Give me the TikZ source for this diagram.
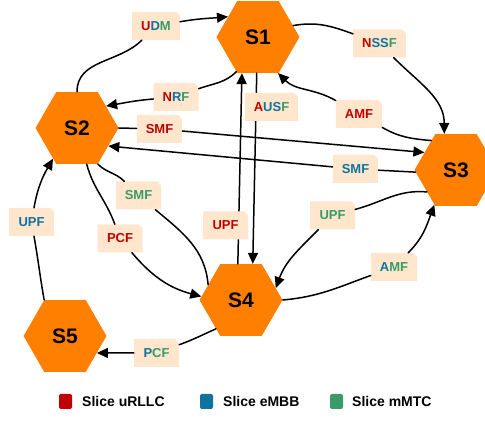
\documentclass[tikz,border=0pt]{standalone}
\usepackage{fontspec}
\setmainfont{Liberation Sans}
\usetikzlibrary{shapes.geometric,shapes.misc,arrows.meta}
\definecolor{hexorange}{HTML}{FF7F00}
\definecolor{peach}{HTML}{FFE6CC}
\definecolor{urllc}{HTML}{C00000}
\definecolor{embb}{HTML}{10739E}
\definecolor{mmtc}{HTML}{3A9A68}
\newcommand{\uRL}[1]{\textcolor{urllc}{#1}}
\newcommand{\eMB}[1]{\textcolor{embb}{#1}}
\newcommand{\mMT}[1]{\textcolor{mmtc}{#1}}
\tikzset{
  slice/.style={regular polygon, regular polygon sides=6, minimum size=83pt,
    fill=hexorange, inner sep=0pt, font=\fontsize{21}{24}\selectfont\bfseries},
  nf/.style={chamfered rectangle, chamfered rectangle corners=north east,
    chamfered rectangle sep=2pt, fill=peach, minimum width=45pt,
    minimum height=28pt, inner xsep=7pt, inner ysep=0pt,
    font=\fontsize{13}{15}\selectfont\bfseries},
  link/.style={line width=1.5pt},
  arr/.style={link, -{Triangle[length=11pt,width=10pt]}},
  key/.style={minimum width=13pt, minimum height=15pt, rounded corners=2pt, inner sep=0pt},
  keytext/.style={anchor=west, inner sep=0pt, font=\fontsize{14}{16}\selectfont\bfseries},
}

\begin{document}
\begin{tikzpicture}[line cap=round,line join=round,x=1pt,y=1pt]
    \useasboundingbox (0,0) rectangle (485,431);

    % slices
    \node[slice] (S1) at (258,394) {S1};
    \node[slice] (S2) at (77,303) {S2};
    \node[slice] (S3) at (456,261) {S3};
    \node[slice] (S4) at (241,131) {S4};
    \node[slice] (S5) at (65,95) {S5};

    % network functions
    \node[nf] (lUDM) at (156,405) {\uRL{U}\eMB{D}\mMT{M}};
    \node[nf] (lNRF) at (176,334) {\uRL{N}\eMB{R}\mMT{F}};
    \node[nf] (lSMFa) at (159.5,302) {\uRL{SMF}};
    \node[nf] (lNSSF) at (379.5,387.5) {\uRL{N}\eMB{SS}\mMT{F}};
    \node[nf] (lAMFa) at (359,317) {\uRL{AMF}};
    \node[nf] (lSMFb) at (355.5,262) {\eMB{SMF}};
    \node[nf] (lSMFc) at (138.5,235.5) {\mMT{SMF}};
    \node[nf] (lPCFa) at (120,192.5) {\uRL{PCF}};
    \node[nf] (lUPFa) at (31.5,209) {\eMB{UPF}};
    \node[nf] (lPCFb) at (156.5,78) {\eMB{P}\mMT{CF}};
    \node[nf] (lUPFc) at (332.5,215.5) {\mMT{UPF}};
    \node[nf] (lAMFb) at (394,164) {\eMB{A}\mMT{MF}};

    % links
    \draw[arr] (S2.north) to[out=90,in=225] (lUDM) to[out=10,in=185] (S1.146);
    \draw[arr] (S1.238) to[out=225,in=20] (lNRF) to[out=185,in=10] (S2.37);
    \draw[arr] (S2.east) -- (lSMFa) -- (S3.151);
    \draw[arr] (S3.183) -- (lSMFb) -- (S2.330);
    \draw[arr] (S1.18) to[out=10,in=160] (lNSSF) to[out=-45,in=90] (S3.108);
    \draw[arr] (S3.130) to[out=175,in=-30] (lAMFa) to[out=150,in=-45] (S1.299);
    \draw[arr] (S4.95) -- (S1.246);
    \draw[arr] (S1.268) -- (S4.72);
    \draw[link] (S2.300) to[out=-45,in=135] (lSMFc) to[out=-40,in=95] (S4.155);
    \draw[arr] (S2.285) to[out=-75,in=110] (lPCFa) to[out=-50,in=165] (S4.175);
    \draw[arr] (S5.120) to[out=100,in=-80] (lUPFa) to[out=80,in=240] (S2.232);
    \draw[arr] (S4.229) to[out=204,in=20] (lPCFb) to[out=180,in=0] (S5.332);
    \draw[arr] (S3.217) to[out=175,in=15] (lUPFc) to[out=225,in=70] (S4.19);
    \draw[arr] (S4.east) to[out=5,in=200] (lAMFb) to[out=45,in=250] (S3.238);

    % labels over the straight links
    \node[nf] (lUPFb) at (225.5,205.5) {\uRL{UPF}};
    \node[nf] (lAUSF) at (271.5,324) {\uRL{A}\eMB{US}\mMT{F}};

    % legend
    \node[key, fill=urllc] (kU) at (65.5,29.5) {};
    \node[keytext] (tU) at (82,29.5) {Slice uRLLC};
    \node[key, fill=embb] (kE) at (206.5,29.5) {};
    \node[keytext] (tE) at (223,29.5) {Slice eMBB};
    \node[key, fill=mmtc] (kM) at (336.5,29.5) {};
    \node[keytext] (tM) at (352,29.5) {Slice mMTC};
\end{tikzpicture}
\end{document}
